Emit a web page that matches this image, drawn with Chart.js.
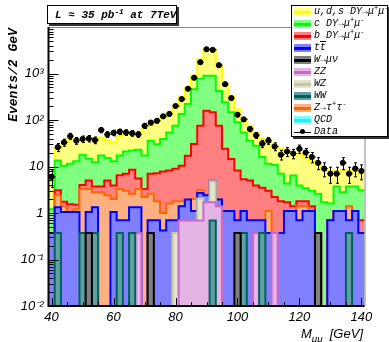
<!DOCTYPE html>
<html>
<head>
<meta charset="utf-8">
<title>Dimuon mass</title>
<script src="https://cdn.jsdelivr.net/npm/chart.js@4.4.1/dist/chart.umd.min.js"></script>
<style>
  body { margin: 0; background: #fff; }
  #wrap { position: relative; width: 389px; height: 342px; overflow: hidden; }
  #c { position: absolute; left: 0; top: 0; }
  .box { position: absolute; background: #fff; border: 1px solid #000; box-shadow: 2px 2px 0 #333; box-sizing: border-box; }
  #lumi { left: 47px; top: 5px; width: 130px; height: 19px; font: italic bold 11px "Liberation Mono", monospace; line-height: 18px; padding-left: 7px; white-space: nowrap; }
  #legend { left: 291px; top: 5px; width: 97px; height: 132px; font: italic 10px "Liberation Mono", monospace; }
  .row { position: absolute; left: 0; height: 12px; line-height: 12px; white-space: nowrap; }
  .sw { position: absolute; left: 2px; top: 2px; width: 17px; height: 8px; }
  .sw i { position: absolute; left: 0; right: 0; top: 3px; height: 3px; }
  .lab { position: absolute; left: 22px; top: 0; }
  sup { font-size: 70%; vertical-align: 4px; line-height: 0; }
  #ytitle { position: absolute; left: -53px; top: 67px; width: 134px; height: 16px; line-height: 16px; text-align: center;
            transform: rotate(-90deg); font: italic bold 13px "Liberation Mono", monospace; white-space: nowrap; }
  #xtitle { position: absolute; right: 26px; top: 326px; font: italic 13px "Liberation Sans", sans-serif; white-space: nowrap; }
  #xtitle sub { font-size: 75%; }
</style>
</head>
<body>
<div id="wrap">
  <canvas id="c" width="389" height="342"></canvas>
  <div id="ytitle">Events/2 GeV</div>
  <div id="xtitle">M<sub>μμ</sub>&nbsp;&nbsp;[GeV]</div>
  <div id="lumi" class="box">L ≈ 35 pb<sup>-1</sup> at 7TeV</div>
  <div id="legend" class="box"></div>
</div>
<script>
// bins of 2 GeV, centred on even masses
var binCentres = [40, 42, 44, 46, 48, 50, 52, 54, 56, 58, 60, 62, 64, 66, 68, 70, 72, 74, 76, 78,
                  80, 82, 84, 86, 88, 90, 92, 94, 96, 98, 100, 102, 104, 106, 108, 110, 112, 114, 116, 118,
                  120, 122, 124, 126, 128, 130, 132, 134, 136, 138, 140];

var dataCounts = [6, 26, 33, 45, 36, 39, 40, 37, 61, 49, 53, 56, 54, 52, 49, 75, 88, 96, 120, 135,
                  200, 282, 470, 810, 1750, 3320, 3220, 1510, 590, 296, 130, 103, 64, 47, 31, 36, 27, 18, 21, 19,
                  24, 20, 16, 12, 9, 7, 7, 12, 7, 9, 8];

// stacked MC, cumulative top of each component
var mcUds = [5.5, 25, 30, 38, 40, 40, 38, 36, 42, 37, 33, 45, 48, 50, 55, 65, 78, 97, 120, 141,
             203, 320, 500, 890, 2000, 3400, 3300, 1470, 590, 330, 170, 105, 75, 54, 40, 34, 28, 24, 21, 19,
             19, 17, 14, 11, 9, 8, 8, 8, 8.5, 8, 7.5];
var mcCharm = [1.2, 13.4, 10.4, 11.4, 12.9, 17.9, 14.6, 12.4, 17.2, 15.2, 12.9, 17.2, 21, 22, 23, 17.2, 36, 30, 39, 54,
               75, 135, 220, 460, 770, 890, 890, 420, 240, 146, 89, 54, 36, 28, 16, 11.4, 10.8, 7, 4.3, 6.4,
               3.9, 3.4, 3, 2.6, 1.7, 1.6, 3.7, 2.8, 3.7, 3.7, 3.1];
var mcBottom = [0.37, 3.1, 1.75, 1.55, 1.5, 4.0, 5.0, 3.7, 3.7, 5.0, 3.9, 6.5, 7.0, 8.5, 5.5, 3.3, 7, 7.2, 7.8, 8.2,
                8.9, 10.4, 17, 30.6, 75, 158, 146, 75, 24, 14.5, 8.2, 5.3, 5.0, 3.9, 3.5, 3.0, 2.2, 1.8, 1.7, 1.4,
                1.8, 1.8, 1.4, 0.37, 0, 0.7, 1.1, 1.1, 1.1, 1.1, 0.7];
var mcZtautau = [0.37, 2.4, 1.4, 0.7, 1.2, 3.3, 3.3, 2.8, 2.8, 2.4, 2.0, 3.3, 3.0, 2.6, 3.3, 2.2, 2.6, 1.8, 1.0, 1.6,
                 1.8, 1.8, 1.9, 2.0, 3.1, 2.5, 5.0, 2.0, 1.1, 1.1, 0.7, 1.1, 0.7, 0.7, 0.7, 1.1, 0.37, 0.37, 1.1, 1.1,
                 1.4, 1.4, 1.1, 0.37, 0, 0.7, 1.1, 1.1, 1.4, 1.1, 0.37];
var mcTtbar = [0.37, 1.33, 1.05, 1.05, 1.05, 0.37, 1.05, 1.33, 0, 0, 1.05, 0.7, 0.7, 1.33, 1.33, 0, 0.7, 0.7, 0.42, 0.7,
               0.7, 1.4, 1.95, 1.1, 2.7, 2.4, 4.9, 1.95, 1.1, 1.1, 0.7, 1.1, 0.7, 0.7, 0.7, 0.37, 0.37, 0.37, 1.1, 1.1,
               0.7, 1.1, 1.1, 0.37, 0, 0.7, 1.1, 1.1, 0.7, 1.1, 0.37];
var mcWZ = [0, 0, 0, 0, 0, 0, 0, 0, 0, 0, 0, 0, 0, 0, 0, 0, 0, 0, 0, 0,
            0.37, 0, 0, 0.69, 2.05, 1.7, 4.8, 0.37, 0, 0, 0, 0, 0, 0, 0, 0, 0, 0, 0, 0,
            0, 0, 0, 0, 0, 0, 0, 0, 0, 0, 0];
var mcZZ = [0, 0, 0, 0, 0, 0, 0, 0, 0, 0, 0, 0, 0, 0, 0.37, 0, 0, 0, 0, 0,
            0, 0.69, 0.69, 0.69, 0.69, 1.7, 1.7, 1.4, 0, 0, 0, 0, 0, 0.37, 0, 0, 0.37, 0, 0, 0,
            0, 0, 0, 0, 0, 0, 0, 0, 0, 0, 0];
var mcWW = [0, 0.37, 0, 0, 0, 0.37, 0, 0.37, 0, 0, 0, 0.37, 0, 0.37, 0, 0, 0, 0, 0, 0,
            0, 0, 0, 0, 0, 0, 0.69, 0, 0, 0, 0, 0.37, 0, 0, 0.37, 0, 0, 0, 0, 0,
            0, 0, 0, 0, 0, 0, 0, 0, 0.37, 0, 0];
var mcWmunu = [0, 0, 0, 0, 0, 0, 0.37, 0, 0, 0, 0, 0, 0, 0, 0, 0, 0.37, 0, 0, 0,
               0, 0, 0, 0, 0, 0, 0, 0, 0, 0, 0.37, 0, 0, 0, 0, 0, 0, 0, 0, 0,
               0, 0, 0, 0.37, 0, 0, 0, 0, 0, 0, 0];

var xTicks = [40, 60, 80, 100, 120, 140];
var yTicks = [0.01, 0.1, 1, 10, 100, 1000];
var yTickLabels = ['10⁻²', '10⁻¹', '1', '10', '10²', '10³'];

// drawn bottom of the list last, so it sits on top
var stack = [
    { vals: mcUds,     line: '#ffff00', fill: '#ffff80', name: 'u,d,s DY→μ<sup>+</sup>μ<sup>-</sup>' },
    { vals: mcCharm,   line: '#00ff00', fill: '#80ff80', name: 'c DY→μ<sup>+</sup>μ<sup>-</sup>' },
    { vals: mcBottom,  line: '#ff0000', fill: '#ff8080', name: 'b DY→μ<sup>+</sup>μ<sup>-</sup>' },
    { vals: mcZtautau, line: '#ff6600', fill: '#ffb080', name: 'Z→τ<sup>+</sup>τ<sup>-</sup>' },
    { vals: mcTtbar,   line: '#0000ff', fill: '#8080ff', name: 't<span style="text-decoration:overline">t</span>' },
    { vals: mcWZ,      line: '#c8c8a0', fill: '#e4e4cc', name: 'WZ' },
    { vals: mcZZ,      line: '#cc66cc', fill: '#e4b4e4', name: 'ZZ' },
    { vals: mcWW,      line: '#006060', fill: '#60a0a0', name: 'WW' },
    { vals: mcWmunu,   line: '#000000', fill: '#808080', name: 'W→μν' }
];

function histPoints(vals) {
    var pts = [];
    for (var i = 0; i < vals.length; i++) {
        pts.push({ x: binCentres[i] - 1, y: vals[i] > 0 ? vals[i] : 1e-4 });
    }
    var last = vals.length - 1;
    pts.push({ x: binCentres[last] + 1, y: vals[last] > 0 ? vals[last] : 1e-4 });
    return pts;
}

var datasets = stack.map(function (s, i) {
    return {
        type: 'line',
        data: histPoints(s.vals),
        stepped: true,
        borderColor: s.line,
        backgroundColor: s.fill,
        borderWidth: 2,
        fill: 'start',
        pointRadius: 0,
        clip: 0,
        order: 20 - i
    };
});
datasets.push({
    type: 'line',
    data: binCentres.map(function (x, i) { return { x: x, y: dataCounts[i] }; }),
    showLine: false,
    pointRadius: 2.6,
    pointBackgroundColor: '#000',
    pointBorderColor: '#000',
    order: 0
});

var errorBars = {
    id: 'errorBars',
    afterDatasetsDraw: function (chart) {
        var ctx = chart.ctx, xs = chart.scales.x, ys = chart.scales.y;
        ctx.save();
        ctx.strokeStyle = '#000';
        ctx.lineWidth = 1;
        dataCounts.forEach(function (n, i) {
            var px = Math.round(xs.getPixelForValue(binCentres[i])) + 0.5;
            var e = Math.sqrt(n);
            var yt = ys.getPixelForValue(n + e);
            var yb = ys.getPixelForValue(Math.max(n - e, 0.011));
            var yc = ys.getPixelForValue(n);
            var hw = (xs.getPixelForValue(binCentres[i] + 1) - xs.getPixelForValue(binCentres[i] - 1)) / 2;
            ctx.beginPath();
            ctx.moveTo(px, yt); ctx.lineTo(px, yb);
            ctx.moveTo(px - 1.5, yt); ctx.lineTo(px + 1.5, yt);
            ctx.moveTo(px - 1.5, yb); ctx.lineTo(px + 1.5, yb);
            ctx.moveTo(px - hw, yc); ctx.lineTo(px + hw, yc);
            ctx.stroke();
        });
        ctx.restore();
    }
};

var frame = {
    id: 'frame',
    afterDraw: function (chart) {
        var ctx = chart.ctx, a = chart.chartArea, xs = chart.scales.x, ys = chart.scales.y;
        ctx.save();
        ctx.lineWidth = 1;
        ctx.strokeStyle = '#888';
        ctx.beginPath();
        ctx.moveTo(a.left, a.top + 0.5); ctx.lineTo(a.right + 0.5, a.top + 0.5); ctx.lineTo(a.right + 0.5, a.bottom);
        ctx.stroke();
        ctx.strokeStyle = '#000';
        ctx.lineWidth = 2;
        ctx.beginPath();
        ctx.moveTo(a.left, a.top); ctx.lineTo(a.left, a.bottom); ctx.lineTo(a.right, a.bottom);
        ctx.stroke();
        // ticks inside the frame
        ctx.lineWidth = 1;
        ctx.beginPath();
        for (var g = 40; g <= 140; g += 5) {
            var px = Math.round(xs.getPixelForValue(g)) + 0.5;
            var len = g % 20 === 0 ? 8 : 4;
            ctx.moveTo(px, a.bottom); ctx.lineTo(px, a.bottom - len);
        }
        for (var d = -2; d <= 3; d++) {
            for (var m = 1; m <= 9; m++) {
                var py = Math.round(ys.getPixelForValue(m * Math.pow(10, d))) + 0.5;
                if (py < a.top) continue;
                ctx.moveTo(a.left, py); ctx.lineTo(a.left + (m === 1 ? 10 : 5), py);
            }
        }
        ctx.stroke();
        ctx.restore();
    }
};

var chart = new Chart(document.getElementById('c'), {
    type: 'line',
    data: { datasets: datasets },
    options: {
        responsive: false,
        animation: false,
        devicePixelRatio: 1,
        layout: { padding: { left: 0, right: 24.5, top: 27, bottom: 0 } },
        plugins: { legend: { display: false }, tooltip: { enabled: false } },
        scales: {
            x: {
                type: 'linear', min: 39, max: 141,
                grid: { display: false, drawTicks: false },
                border: { display: false },
                afterFit: function (s) { s.height = 36; },
                afterBuildTicks: function (s) { s.ticks = xTicks.map(function (v) { return { value: v }; }); },
                ticks: { color: '#000', padding: 4, maxRotation: 0, font: { family: 'Liberation Sans', size: 13, style: 'italic' } }
            },
            y: {
                type: 'logarithmic', min: 0.01, max: 10000,
                grid: { display: false, drawTicks: false },
                border: { display: false },
                afterFit: function (s) { s.width = 48.5; },
                afterBuildTicks: function (s) { s.ticks = yTicks.map(function (v) { return { value: v }; }); },
                ticks: {
                    color: '#000', padding: 5, font: { family: 'Liberation Sans', size: 13, style: 'italic' },
                    callback: function (v) { return yTickLabels[yTicks.indexOf(v)]; }
                }
            }
        }
    },
    plugins: [errorBars, frame]
});

// legend, in the order of the original
var legendOrder = [0, 1, 2, 4, 8, 6, 5, 7, 3];
var legendEl = document.getElementById('legend');
var rowY = 0;
legendOrder.forEach(function (k) {
    var s = stack[k];
    legendEl.insertAdjacentHTML('beforeend',
        '<div class="row" style="top:' + rowY + 'px"><div class="sw" style="background:' + s.fill + '"><i style="background:' + s.line + '"></i></div>' +
        '<span class="lab">' + s.name + '</span></div>');
    rowY += 12;
});
legendEl.insertAdjacentHTML('beforeend',
    '<div class="row" style="top:' + rowY + 'px"><div class="sw" style="background:#80ffff"><i style="background:#00ffff"></i></div><span class="lab">QCD</span></div>');
rowY += 12;
legendEl.insertAdjacentHTML('beforeend',
    '<div class="row" style="top:' + rowY + 'px"><div class="sw"><i style="background:#000;height:1px;top:4px"></i><b style="position:absolute;left:6px;top:1px;width:5px;height:5px;border-radius:50%;background:#000"></b></div><span class="lab">Data</span></div>');
</script>
</body>
</html>
